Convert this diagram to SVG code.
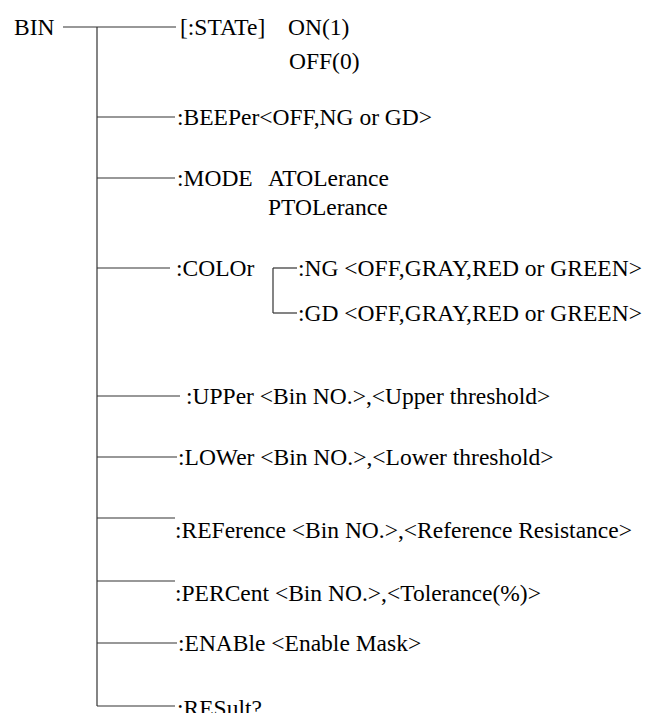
<svg xmlns="http://www.w3.org/2000/svg" width="670" height="713" viewBox="0 0 670 713">
<style>
text{font-family:"Liberation Serif","Times New Roman",serif;font-size:23.5px;fill:#000}
.c line{stroke:#333;stroke-width:1.2}
</style>
<rect width="670" height="713" fill="#fff"/>
<g class="c" id="connectors">
<line x1="63" y1="27" x2="176" y2="27"/>
<line x1="97" y1="27" x2="97" y2="706"/>
<line x1="97" y1="117" x2="175" y2="117"/>
<line x1="97" y1="178" x2="175" y2="178"/>
<line x1="97" y1="268" x2="170" y2="268"/>
<line x1="273" y1="268" x2="297" y2="268"/>
<line x1="273" y1="268" x2="273" y2="313"/>
<line x1="273" y1="313" x2="297" y2="313"/>
<line x1="97" y1="396" x2="180" y2="396"/>
<line x1="97" y1="457" x2="177" y2="457"/>
<line x1="97" y1="518" x2="175" y2="518"/>
<line x1="97" y1="581" x2="175" y2="581"/>
<line x1="97" y1="643" x2="177" y2="643"/>
<line x1="97" y1="706" x2="175" y2="706"/>
</g>
<g id="bin"><text x="14" y="35">BIN</text></g>
<g id="state"><text x="180" y="35">[:STATe]</text><text x="288" y="35">ON(1)</text><text x="289" y="69">OFF(0)</text></g>
<g id="beeper"><text x="177" y="125">:BEEPer&lt;OFF,NG or GD&gt;</text></g>
<g id="mode"><text x="177" y="186">:MODE</text><text x="268" y="186">ATOLerance</text><text x="268" y="215">PTOLerance</text></g>
<g id="color"><text x="176" y="276">:COLOr</text></g>
<g id="ng"><text x="298" y="276">:NG &lt;OFF,GRAY,RED or GREEN&gt;</text></g>
<g id="gd"><text x="298" y="321">:GD &lt;OFF,GRAY,RED or GREEN&gt;</text></g>
<g id="upper"><text x="186" y="404">:UPPer &lt;Bin NO.&gt;,&lt;Upper threshold&gt;</text></g>
<g id="lower"><text x="178" y="465">:LOWer &lt;Bin NO.&gt;,&lt;Lower threshold&gt;</text></g>
<g id="reference"><text x="175" y="538">:REFerence &lt;Bin NO.&gt;,&lt;Reference Resistance&gt;</text></g>
<g id="percent"><text x="175" y="601">:PERCent &lt;Bin NO.&gt;,&lt;Tolerance(%)&gt;</text></g>
<g id="enable"><text x="178" y="651">:ENABle &lt;Enable Mask&gt;</text></g>
<g id="result"><text x="177" y="716">:RESult?</text></g>
</svg>
